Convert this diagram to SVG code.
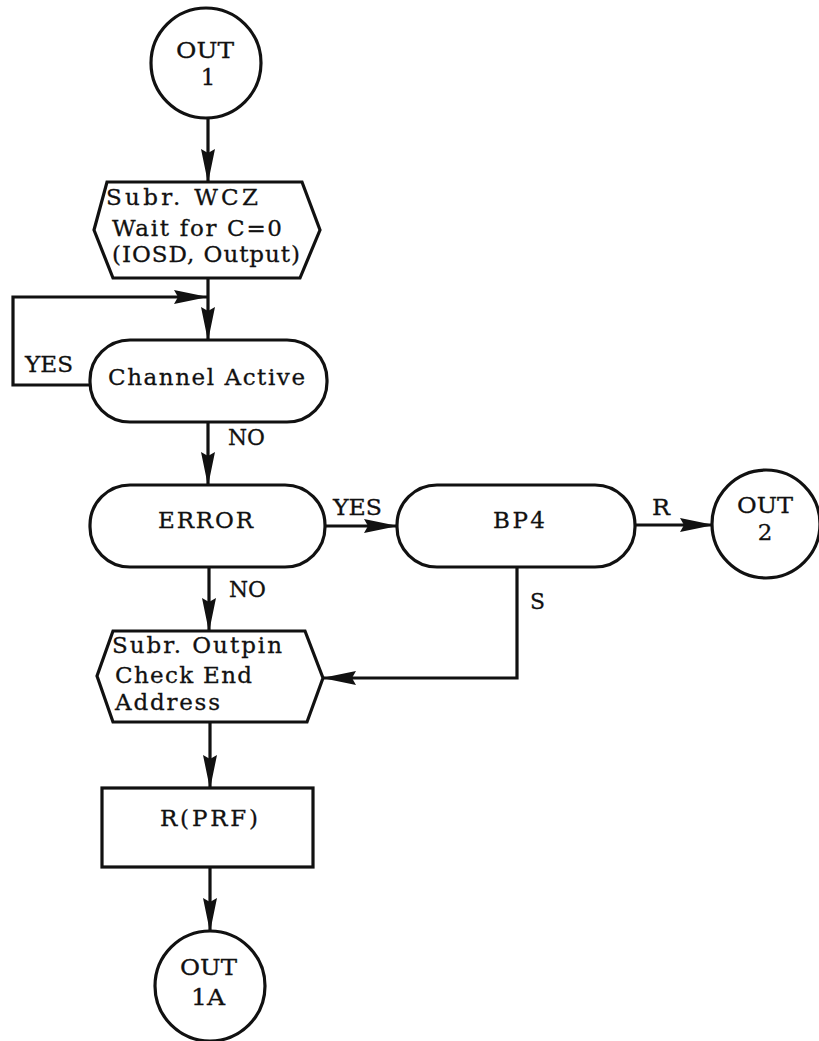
<svg xmlns="http://www.w3.org/2000/svg" width="819" height="1041" viewBox="0 0 819 1041">
  <style>
    .shape { fill: #ffffff; stroke: #111111; stroke-width: 3.2; }
    .line { fill: none; stroke: #111111; stroke-width: 3.2; }
    text { font-family: "DejaVu Serif", "Liberation Serif", serif; font-size: 23px; fill: #111111; stroke: #111111; stroke-width: 0.3; }
    .c { text-anchor: middle; }
  </style>
  <defs>
    <marker id="arrow" markerUnits="userSpaceOnUse" markerWidth="34" markerHeight="14" refX="33" refY="7" viewBox="0 0 34 14" orient="auto">
      <path d="M0,0 L34,7 L0,14 L4,7 Z" fill="#111111"/>
    </marker>
  </defs>
  <rect x="0" y="0" width="819" height="1041" fill="#ffffff"/>

  <g id="connectors">
    <path class="line" d="M208,118 V182" marker-end="url(#arrow)"/>
    <path class="line" d="M208,278 V340" marker-end="url(#arrow)"/>
    <path class="line" d="M90,385 H13 V297 H207" marker-end="url(#arrow)"/>
    <path class="line" d="M208,422 V485" marker-end="url(#arrow)"/>
    <path class="line" d="M325,526 H397" marker-end="url(#arrow)"/>
    <path class="line" d="M635,525 H713" marker-end="url(#arrow)"/>
    <path class="line" d="M209,567 V631" marker-end="url(#arrow)"/>
    <path class="line" d="M517,567 V678 H323" marker-end="url(#arrow)"/>
    <path class="line" d="M210,722 V788" marker-end="url(#arrow)"/>
    <path class="line" d="M210,867 V931" marker-end="url(#arrow)"/>
    <text x="25" y="372" textLength="48" lengthAdjust="spacingAndGlyphs">YES</text>
    <text x="228" y="445" textLength="37" lengthAdjust="spacingAndGlyphs">NO</text>
    <text x="333" y="515" textLength="49" lengthAdjust="spacingAndGlyphs">YES</text>
    <text x="652" y="515" textLength="18" lengthAdjust="spacingAndGlyphs">R</text>
    <text x="229" y="597" textLength="37" lengthAdjust="spacingAndGlyphs">NO</text>
    <text x="530" y="609" textLength="15" lengthAdjust="spacingAndGlyphs">S</text>
  </g>

  <g id="out1">
    <circle class="shape" cx="206" cy="63" r="55"/>
    <text x="176" y="58" textLength="58" lengthAdjust="spacingAndGlyphs">OUT</text>
    <text class="c" x="208" y="85">1</text>
  </g>

  <g id="subr-wcz">
    <polygon class="shape" points="107,182 302,182 320,230 300,278 113,278 94,230"/>
    <text x="106" y="205" textLength="152" lengthAdjust="spacing">Subr. WCZ</text>
    <text x="112" y="236" textLength="170" lengthAdjust="spacing">Wait for C=0</text>
    <text x="112" y="262" textLength="188" lengthAdjust="spacing">(IOSD, Output)</text>
  </g>

  <g id="channel-active">
    <rect class="shape" x="90" y="340" width="237" height="82" rx="40" ry="40"/>
    <text x="108" y="385" textLength="197" lengthAdjust="spacing">Channel Active</text>
  </g>

  <g id="error">
    <rect class="shape" x="90" y="485" width="235" height="82" rx="40" ry="40"/>
    <text x="158" y="528" textLength="95" lengthAdjust="spacing">ERROR</text>
  </g>

  <g id="bp4">
    <rect class="shape" x="397" y="485" width="238" height="82" rx="40" ry="40"/>
    <text x="493" y="528" textLength="52" lengthAdjust="spacing">BP4</text>
  </g>

  <g id="out2">
    <circle class="shape" cx="766" cy="524" r="54"/>
    <text x="737" y="513" textLength="56" lengthAdjust="spacingAndGlyphs">OUT</text>
    <text class="c" x="765" y="540">2</text>
  </g>

  <g id="subr-outpin">
    <polygon class="shape" points="113,631 305,631 323,678 307,722 113,722 97,676"/>
    <text x="112" y="653" textLength="170" lengthAdjust="spacing">Subr. Outpin</text>
    <text x="115" y="683" textLength="137" lengthAdjust="spacing">Check End</text>
    <text x="115" y="710" textLength="105" lengthAdjust="spacing">Address</text>
  </g>

  <g id="r-prf">
    <rect class="shape" x="102" y="788" width="211" height="79"/>
    <text x="160" y="826" textLength="98" lengthAdjust="spacing">R(PRF)</text>
  </g>

  <g id="out1a">
    <circle class="shape" cx="210" cy="986" r="55"/>
    <text x="180" y="975" textLength="57" lengthAdjust="spacingAndGlyphs">OUT</text>
    <text x="191" y="1005" textLength="34" lengthAdjust="spacingAndGlyphs">1A</text>
  </g>
</svg>
